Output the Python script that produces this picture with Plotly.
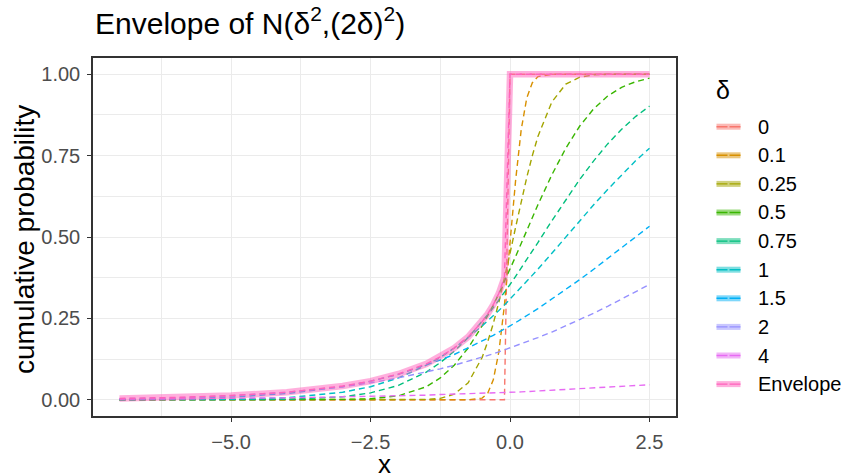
import plotly.graph_objects as go

# Shared x grid (denser near 0 where the curves are steep)
x_grid = [-7, -6, -5, -4, -3, -2.5, -2, -1.5, -1.25, -1, -0.75, -0.5, -0.4, -0.3,
          -0.2, -0.1, 0, 0.1, 0.2, 0.3, 0.4, 0.5, 0.75, 1, 1.25, 1.5, 1.75, 2, 2.25, 2.5]

# Cumulative probability of N(delta^2, (2 delta)^2) for each delta
cdf_d0 = [0, 0, 0, 0, 0, 0, 0, 0, 0, 0, 0, 0, 0, 0, 0, 0,
          1, 1, 1, 1, 1, 1, 1, 1, 1, 1, 1, 1, 1, 1]
cdf_d01 = [0, 0, 0, 0, 0, 0, 0, 0, 0, 0, 0.000, 0.005, 0.020, 0.061, 0.147, 0.291,
           0.480, 0.674, 0.829, 0.927, 0.974, 0.993, 1.000, 1, 1, 1, 1, 1, 1, 1]
cdf_d025 = [0, 0, 0, 0, 0, 0, 0.000, 0.001, 0.004, 0.017, 0.052, 0.130, 0.178, 0.234,
            0.300, 0.373, 0.450, 0.530, 0.608, 0.683, 0.750, 0.809, 0.915, 0.970,
            0.991, 0.998, 1.000, 1.000, 1.000, 1.000]
cdf_d05 = [0, 0, 0, 0, 0.001, 0.003, 0.012, 0.040, 0.067, 0.106, 0.159, 0.227, 0.258,
           0.291, 0.326, 0.363, 0.401, 0.440, 0.480, 0.520, 0.560, 0.599, 0.691, 0.773,
           0.841, 0.894, 0.933, 0.960, 0.977, 0.988]
cdf_d075 = [0.000, 0.000, 0.000, 0.001, 0.009, 0.021, 0.044, 0.085, 0.114, 0.149, 0.191,
            0.239, 0.261, 0.283, 0.306, 0.329, 0.354, 0.379, 0.404, 0.431, 0.457, 0.483,
            0.550, 0.615, 0.677, 0.734, 0.786, 0.831, 0.870, 0.902]
cdf_d1 = [0.000, 0.000, 0.001, 0.006, 0.023, 0.040, 0.067, 0.106, 0.130, 0.159, 0.191,
          0.227, 0.242, 0.258, 0.274, 0.291, 0.309, 0.326, 0.345, 0.363, 0.382, 0.401,
          0.450, 0.500, 0.550, 0.599, 0.646, 0.691, 0.734, 0.773]
cdf_d15 = [0.001, 0.003, 0.008, 0.019, 0.040, 0.057, 0.078, 0.106, 0.122, 0.139, 0.159,
           0.180, 0.189, 0.198, 0.207, 0.217, 0.227, 0.237, 0.247, 0.258, 0.269, 0.280,
           0.309, 0.339, 0.369, 0.401, 0.434, 0.467, 0.500, 0.533]
cdf_d2 = [0.003, 0.006, 0.012, 0.023, 0.040, 0.052, 0.067, 0.085, 0.095, 0.106, 0.118,
          0.130, 0.136, 0.141, 0.147, 0.153, 0.159, 0.165, 0.171, 0.178, 0.184, 0.191,
          0.208, 0.227, 0.246, 0.266, 0.287, 0.309, 0.331, 0.354]
cdf_d4 = [0.002, 0.003, 0.004, 0.006, 0.009, 0.010, 0.012, 0.014, 0.016, 0.017, 0.018,
          0.020, 0.020, 0.021, 0.021, 0.022, 0.023, 0.023, 0.024, 0.025, 0.026, 0.026,
          0.028, 0.030, 0.033, 0.035, 0.038, 0.040, 0.043, 0.046]
# Upper envelope over all delta
envelope = [0.004, 0.007, 0.013, 0.023, 0.042, 0.057, 0.079, 0.110, 0.132, 0.159, 0.193,
            0.240, 0.264, 0.292, 0.327, 0.376, 1, 1, 1, 1, 1, 1, 1, 1, 1, 1, 1, 1, 1, 1]

delta_labels = ["0", "0.1", "0.25", "0.5", "0.75", "1", "1.5", "2", "4", "Envelope"]
series = [cdf_d0, cdf_d01, cdf_d025, cdf_d05, cdf_d075, cdf_d1, cdf_d15, cdf_d2, cdf_d4,
          envelope]
colors = ["#F8766D", "#D89000", "#A3A500", "#39B600", "#00BF7D", "#00BFC4", "#00B0F6",
          "#9590FF", "#E76BF3", "#FF62BC"]

x_ticks = [-5, -2.5, 0, 2.5]
x_tick_text = ["\u22125.0", "\u22122.5", "0.0", "2.5"]
y_ticks = [0, 0.25, 0.5, 0.75, 1]
y_tick_text = ["0.00", "0.25", "0.50", "0.75", "1.00"]

FONT = "Liberation Sans, Arial, sans-serif"
W, H = 849, 476
PL, PR, PT, PB = 93, 676, 58, 416
DASH = "6px,4px"

fig = go.Figure()
for lab, col, ys in zip(delta_labels, colors, series):
    fig.add_trace(go.Scatter(x=x_grid, y=ys, mode="lines", name=lab,
                             line=dict(color=col, width=1.4, dash=DASH),
                             showlegend=False, hoverinfo="skip"))
# translucent band tracing the envelope
fig.add_trace(go.Scatter(x=x_grid, y=envelope, mode="lines", name="Envelope band",
                         line=dict(color=colors[-1], width=6.5), opacity=0.5,
                         showlegend=False, hoverinfo="skip"))


def px_x(p):
    return (p - PL) / (PR - PL)


def px_y(p):
    return (PB - p) / (PB - PT)


shapes = []
annotations = []
# axis titles
annotations.append(dict(text="x", x=px_x((PL + PR) / 2), y=px_y(464), xref="paper",
                        yref="paper", xanchor="center", yanchor="middle", showarrow=False,
                        font=dict(family=FONT, size=26, color="black")))
annotations.append(dict(text="cumulative probability", x=px_x(24), y=px_y(240),
                        xref="paper", yref="paper", xanchor="center", yanchor="middle",
                        textangle=-90, showarrow=False,
                        font=dict(family=FONT, size=28, color="black")))
# hand-built legend: translucent band key with dashed line on top
annotations.append(dict(text="\u03b4", x=px_x(714), y=px_y(90), xref="paper", yref="paper",
                        xanchor="left", yanchor="middle", showarrow=False,
                        font=dict(family=FONT, size=25, color="black")))
for i, (lab, col) in enumerate(zip(delta_labels, colors)):
    yc = px_y(126.7 + 28.6 * i)
    shapes.append(dict(type="line", xref="paper", yref="paper", x0=px_x(716.5),
                       x1=px_x(740.5), y0=yc, y1=yc, opacity=0.5,
                       line=dict(color=col, width=6)))
    shapes.append(dict(type="line", xref="paper", yref="paper", x0=px_x(716.5),
                       x1=px_x(740.5), y0=yc, y1=yc,
                       line=dict(color=col, width=1.4, dash="11px,2px")))
    annotations.append(dict(text=lab, x=px_x(756), y=yc, xref="paper", yref="paper",
                            xanchor="left", yanchor="middle", showarrow=False,
                            font=dict(family=FONT, size=20, color="black")))

axis_common = dict(showline=True, mirror=True, linecolor="#333333", linewidth=1.5,
                   ticks="outside", ticklen=4, tickwidth=1.3, tickcolor="#333333",
                   showgrid=True, gridcolor="#EBEBEB", gridwidth=1.2, zeroline=False,
                   automargin=False,
                   tickfont=dict(family=FONT, size=20, color="#4D4D4D"))

fig.update_layout(
    width=W, height=H,
    margin=dict(l=PL, r=W - PR, t=PT, b=H - PB),
    paper_bgcolor="white", plot_bgcolor="white",
    font=dict(family=FONT, color="black"),
    title=dict(text="Envelope of N(\u03b4<sup>2</sup>,(2\u03b4)<sup>2</sup>)",
               x=95 / W, xanchor="left", xref="container",
               y=1 - 23 / H, yanchor="middle", yref="container",
               font=dict(family=FONT, size=30, color="black")),
    xaxis=dict(range=[-7.475, 2.975], tickvals=x_ticks, ticktext=x_tick_text,
               ticklabelstandoff=3,
               minor=dict(tickvals=[-6.25, -3.75, -1.25, 1.25], showgrid=True,
                          gridcolor="#EBEBEB", gridwidth=0.6, ticklen=0),
               **axis_common),
    yaxis=dict(range=[-0.05, 1.05], tickvals=y_ticks, ticktext=y_tick_text,
               ticklabelstandoff=3,
               minor=dict(tickvals=[0.125, 0.375, 0.625, 0.875], showgrid=True,
                          gridcolor="#EBEBEB", gridwidth=0.6, ticklen=0),
               **axis_common),
    shapes=shapes,
    annotations=annotations,
    showlegend=False,
)

fig.write_html("out.html")
